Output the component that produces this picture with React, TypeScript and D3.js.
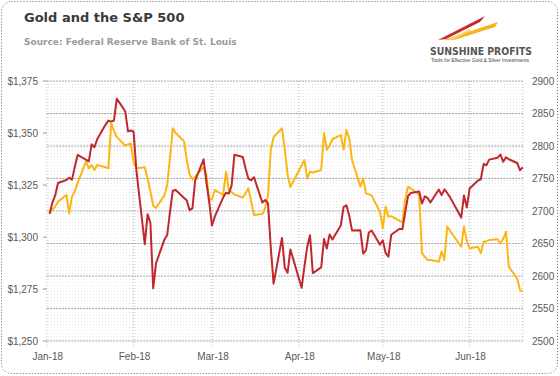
import React from "react";
import * as d3 from "d3";

const dates = [
  "01-02","01-03","01-04","01-05","01-08","01-09","01-10","01-11","01-12","01-15","01-16","01-17","01-18","01-19","01-22","01-23","01-24","01-25","01-26","01-29","01-30","01-31",
  "02-01","02-02","02-05","02-06","02-07","02-08","02-09","02-12","02-13","02-14","02-15","02-16","02-19","02-20","02-21","02-22","02-23","02-26","02-27","02-28",
  "03-01","03-02","03-05","03-06","03-07","03-08","03-09","03-12","03-13","03-14","03-15","03-16","03-19","03-20","03-21","03-22","03-23","03-26","03-27","03-28","03-29","03-30",
  "04-02","04-03","04-04","04-05","04-06","04-09","04-10","04-11","04-12","04-13","04-16","04-17","04-18","04-19","04-20","04-23","04-24","04-25","04-26","04-27","04-30",
  "05-01","05-02","05-03","05-04","05-07","05-08","05-09","05-10","05-11","05-14","05-15","05-16","05-17","05-18","05-21","05-22","05-23","05-24","05-25","05-28","05-29","05-30","05-31",
  "06-01","06-04","06-05","06-06","06-07","06-08","06-11","06-12","06-13","06-14","06-15","06-18","06-19","06-20",
];

const sp500: (number | null)[] = [
  2695.81,2713.06,2723.99,2743.15,2747.71,2751.29,2748.23,2767.56,2786.24,null,2776.42,2802.56,2798.03,2810.30,2832.97,2839.13,2837.54,2839.25,2872.87,2853.53,2822.43,2823.81,
  2821.98,2762.13,2648.94,2695.14,2681.66,2581.00,2619.55,2656.00,2662.94,2698.63,2731.20,2732.22,null,2716.26,2701.33,2703.96,2747.30,2779.60,2744.28,2713.83,
  2677.67,2691.25,2720.94,2728.12,2726.80,2738.97,2786.57,2783.02,2765.31,2749.48,2747.33,2752.01,2712.92,2716.94,2711.93,2643.69,2588.26,2658.55,2612.62,2605.00,2640.87,null,
  2581.88,2614.45,2644.69,2662.84,2604.47,2613.16,2656.87,2642.19,2663.99,2656.30,2677.84,2706.39,2708.64,2693.13,2670.14,2670.29,2634.56,2639.40,2666.94,2669.91,2648.05,
  2654.80,2635.67,2629.73,2663.42,2672.63,2671.92,2697.79,2723.07,2727.72,2730.13,2711.45,2722.46,2720.13,2712.97,2733.01,2724.44,2733.29,2727.76,2721.33,null,2689.86,2724.01,2705.27,
  2734.62,2746.87,2748.80,2772.35,2770.37,2779.03,2782.00,2786.85,2775.63,2782.49,2779.66,2773.87,2762.59,2767.32,
];

const gold: (number | null)[] = [
  1311.4,1313,1314.6,1317,1320.2,1311.4,1319.4,1322,1326,1336.2,1333,1334.6,1332.2,1334.6,1333.5,1333,1354.7,1351,1348,1344,1344.5,1345,
  1336,1333,1333.5,1328,1322,1315,1314,1320,1325,1338,1352.3,1350,1346,1337,1330,1327.7,1329,1333.5,1330,1318,
  1318,1322.6,1320.2,1331.4,1322.6,1321.5,1320.5,1319,1321,1323.4,1317,1310.6,1311,1314,1320,1342,1348,1352.3,1342,1330,1324,null,
  null,1337,1328.2,1331.4,1331,1332.2,1350,1342,1344,1347,1349,1342,1351.4,1347.5,1337,1324.2,1328.2,1321,1320.5,1320,1312,
  1304.2,1314.6,1309.8,1310,null,1307,1318,1324.2,1323.4,1320.2,1292.2,1290.5,1289,1289,1288.1,1293,1289,1305,1303,null,1295.3,1305,1298,
  1294.6,1295.3,1292.2,1297.7,1298,1298.5,1298.9,1297,1299,1302.5,1285.7,1280,1274.5,1273.7,
];

const goldTicks = [1250, 1275, 1300, 1325, 1350, 1375];
const spTicks = [2500, 2550, 2600, 2650, 2700, 2750, 2800, 2850, 2900];
const monthTicks = ["2018-01-01", "2018-02-01", "2018-03-01", "2018-04-01", "2018-05-01", "2018-06-01"];

const title = "Gold and the S&P 500";
const subtitle = "Source: Federal Reserve Bank of St. Louis";

const parse = d3.timeParse("%Y-%m-%d");
const W = 560, H = 376;
const L = 46.8, R = 522.8, T = 81, B = 341;

export default function App() {
  const x = d3.scaleTime().domain([parse("2018-01-01")!, parse("2018-06-20")!]).range([L, R]);
  const yG = d3.scaleLinear().domain([1250, 1375]).range([B, T]);
  const yS = d3.scaleLinear().domain([2500, 2900]).range([B, T]);
  const pts = dates.map((d) => parse("2018-" + d)!);

  const goldData = pts.map((p, i) => ({ p, v: gold[i] })).filter((d) => d.v != null) as { p: Date; v: number }[];
  const spData = pts.map((p, i) => ({ p, v: sp500[i] })).filter((d) => d.v != null) as { p: Date; v: number }[];

  const goldLine = d3.line<{ p: Date; v: number }>().x((d) => x(d.p)).y((d) => yG(d.v));
  const spLine = d3.line<{ p: Date; v: number }>().x((d) => x(d.p)).y((d) => yS(d.v));
  const fmtG = d3.format("$,");
  const fmtM = d3.timeFormat("%b-%y");
  const axisFont = "'Liberation Sans', Arial, sans-serif";

  return (
    <svg width={W} height={H} style={{ position: "absolute", left: 0, top: 0, background: "#fff" }}>
      <defs>
        <pattern id="dots" width="3" height="3" patternUnits="userSpaceOnUse">
          <rect x="0" y="0" width="1" height="1" fill="#e6e6e6" />
        </pattern>
      </defs>
      <rect x={1.5} y={1.5} width={556} height={372} rx={10} fill="#fff" stroke="#666" strokeDasharray="1,2" />
      <text x={24} y={22} fontFamily="'DejaVu Sans', sans-serif" fontWeight="bold" fontSize={13} fill="#3a3a3a">{title}</text>
      <text x={24} y={45} fontFamily="'DejaVu Sans', sans-serif" fontWeight="bold" fontSize={9} fill="#9a9a9a">{subtitle}</text>

      {/* logo */}
      <g>
        <polygon points="438,40 485,16 480,22 446,39" fill="#c62a2f" />
        <polygon points="444,40 498,22 495,27 454,40" fill="#f4b41a" />
        <polygon points="447,40 470,29 471,31 452,40" fill="#f7d36b" />
        <text x={430} y={55} fontFamily="'DejaVu Sans', sans-serif" fontWeight="bold" fontSize={10} fill="#555" textLength={102} lengthAdjust="spacingAndGlyphs">SUNSHINE PROFITS</text>
        <text x={431} y={62} fontFamily="'Liberation Sans', Arial, sans-serif" fontSize={4.6} fill="#444" textLength={98} lengthAdjust="spacingAndGlyphs">Tools for Effective Gold &amp; Silver Investments</text>
      </g>

      <rect x={L} y={T} width={R - L} height={B - T} fill="url(#dots)" />
      {spTicks.map((t) => (
        <line key={"h" + t} x1={L} x2={R} y1={yS(t)} y2={yS(t)} stroke="#a8a8a8" strokeDasharray="2,1" />
      ))}
      {monthTicks.map((m) => (
        <line key={"v" + m} x1={x(parse(m)!)} x2={x(parse(m)!)} y1={T} y2={B + 5} stroke="#b8b8b8" strokeDasharray="1,2" />
      ))}
      <line x1={R} x2={R} y1={T} y2={B} stroke="#b8b8b8" strokeDasharray="1,2" />
      {goldTicks.map((t) => (
        <g key={"g" + t}>
          <line x1={L - 4} x2={L} y1={yG(t)} y2={yG(t)} stroke="#999" />
          <text x={38} y={yG(t) + 3.5} textAnchor="end" fontFamily={axisFont} fontSize={10} fill="#595959">{fmtG(t)}</text>
        </g>
      ))}
      {spTicks.map((t) => (
        <text key={"s" + t} x={532} y={yS(t) + 3.5} fontFamily={axisFont} fontSize={10} fill="#595959">{t}</text>
      ))}
      {monthTicks.map((m) => (
        <text key={"m" + m} x={x(parse(m)!) + 1} y={360} textAnchor="middle" fontFamily={axisFont} fontSize={10} fill="#595959">{fmtM(parse(m)!)}</text>
      ))}

      <path d={goldLine(goldData) || ""} fill="none" stroke="#fbb614" strokeWidth={2} strokeLinejoin="round" />
      <path d={spLine(spData) || ""} fill="none" stroke="#c1282d" strokeWidth={2} strokeLinejoin="round" />
    </svg>
  );
}
